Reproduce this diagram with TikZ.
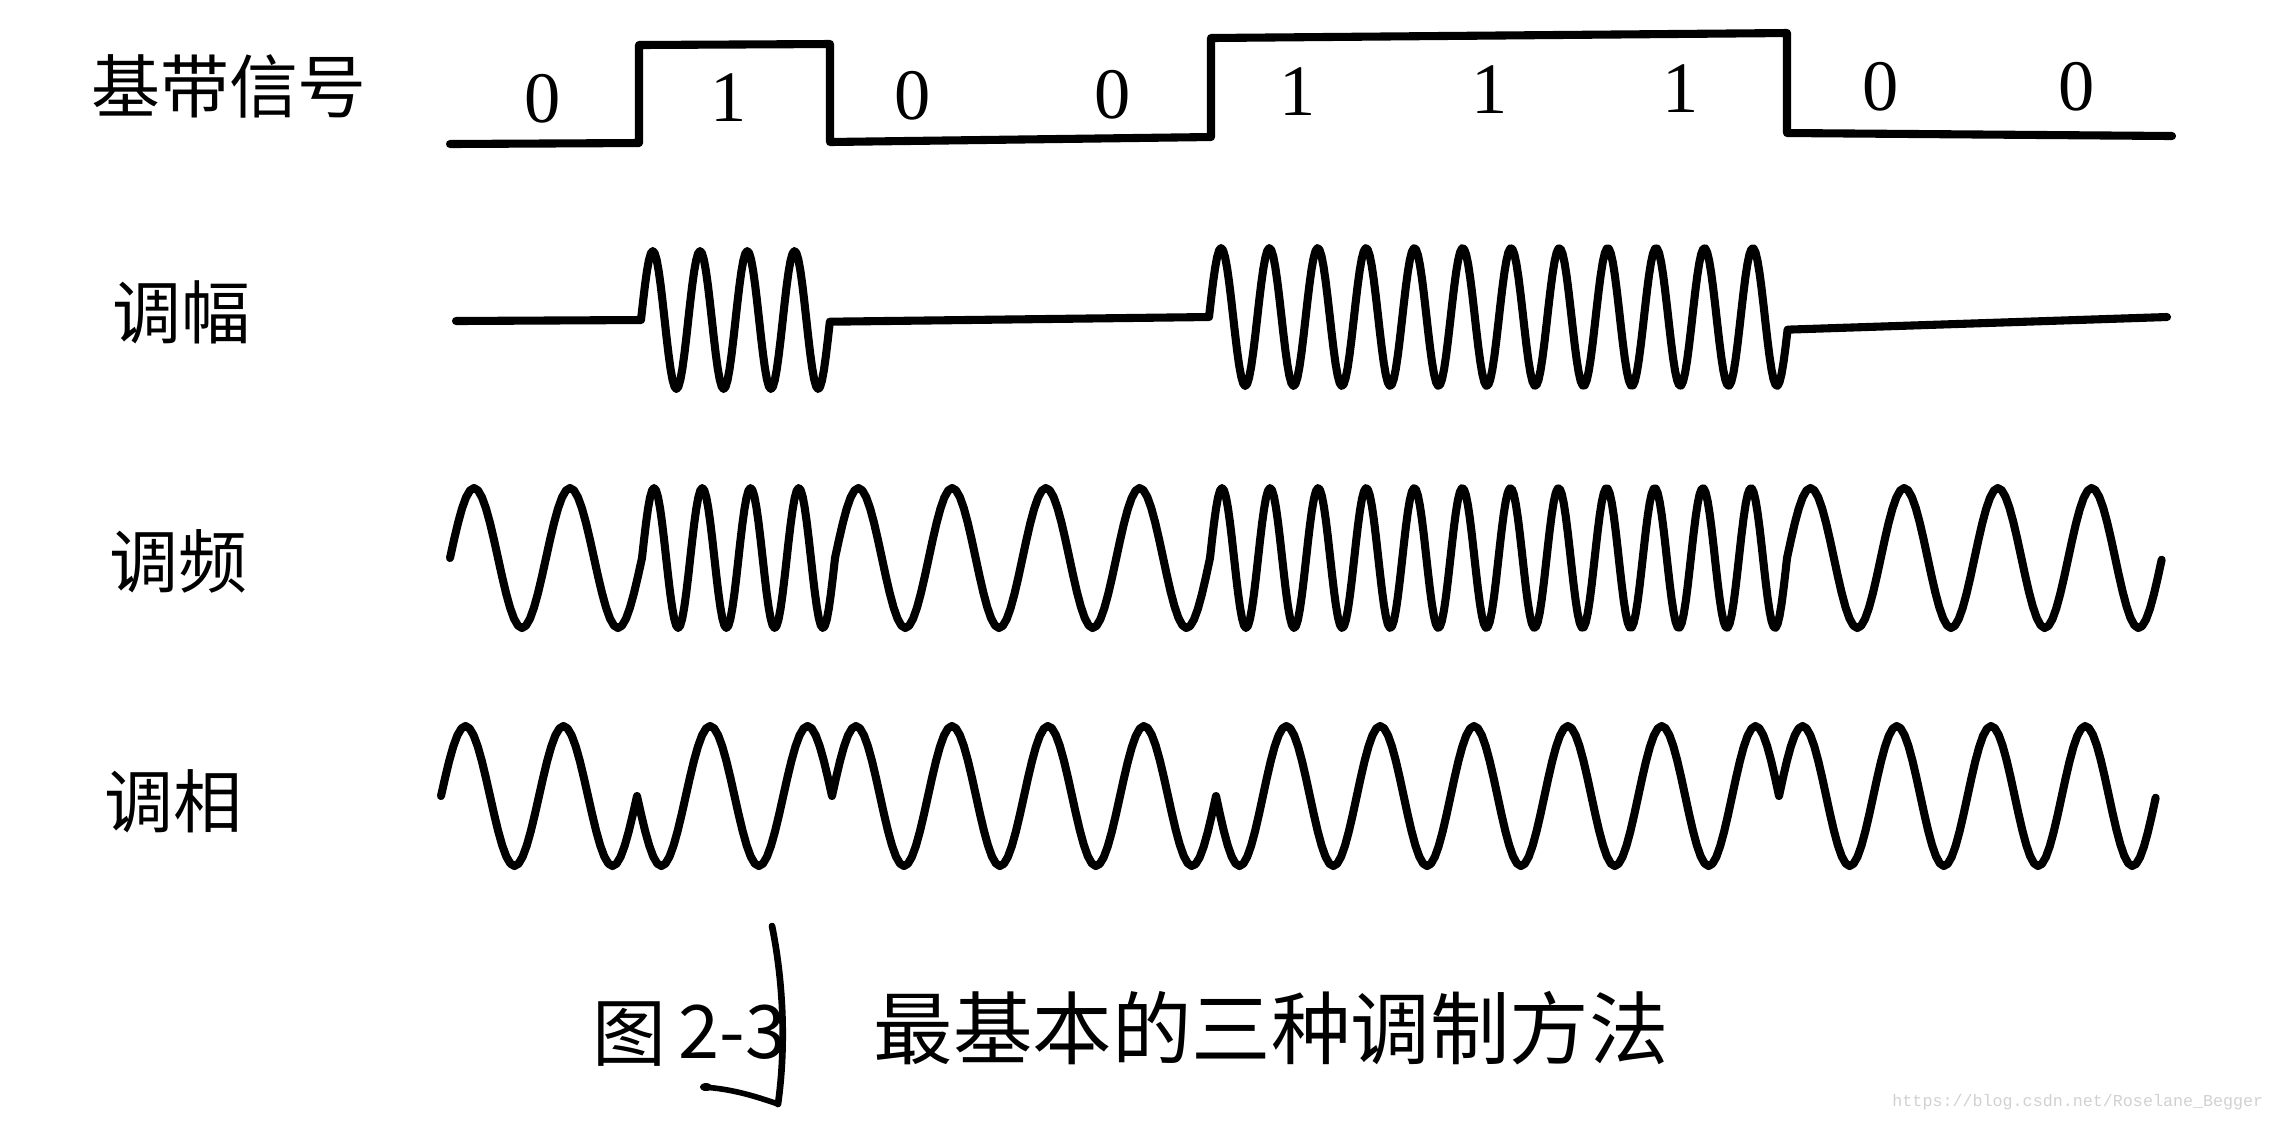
\documentclass[tikz,border=0pt]{standalone}
\usepackage{fontspec}
\setmainfont{Liberation Serif}
\newfontfamily\cjk{Noto Sans CJK SC}
\newfontfamily\wmfont{Liberation Mono}
\begin{document}
\begin{tikzpicture}[x=0.01cm,y=-0.01cm,
  sig/.style={line width=2.3pt,line join=round,line cap=round},
  lbl/.style={font=\cjk\fontsize{19.6pt}{22pt}\selectfont,inner sep=0pt},
  bit/.style={font=\fontsize{20.6pt}{24pt}\selectfont,inner sep=0pt},
  captext/.style={font=\cjk\fontsize{22.6pt}{26pt}\selectfont,inner sep=0pt,anchor=base west},
  capfigure/.style={font=\cjk\fontsize{21pt}{24pt}\selectfont,inner sep=0pt,anchor=base west},
  capdigits/.style={font=\cjk\fontsize{21pt}{24pt}\selectfont,inner sep=0pt,anchor=base east},
  wm/.style={font=\wmfont\fontsize{4.75pt}{6pt}\selectfont,text=black!18,inner sep=0pt},
  pen/.style={line cap=round,line join=round}]
\fill[white] (0,0) rectangle (2276,1120);
\useasboundingbox (0,0) rectangle (2276,1120);

% row labels
\node[lbl] (lbase) at (229,86) {基带信号};
\node[lbl] (lam) at (181,312) {调幅};
\node[lbl] (lfm) at (178,561) {调频};
\node[lbl] (lpm) at (173,801) {调相};

% bit values
\foreach \x/\y/\t [count=\i] in {543/99/0,729/98/1,913/96/0,1113/95/0,1298/92/1,1490/90/1,1681/89/1,1881/87/0,2077/87/0}
  \node[bit] (b\i) at (\x,\y) {\t};

% baseband signal
\draw[sig] (450,144) -- (639,143) -- (639,45) -- (830,44) -- (830,142) -- (1211,137)
  -- (1211,38) -- (1787,33) -- (1787,133) -- (2172,136);

% amplitude modulation
\draw[sig] (456,321) -- (641,320)
  -- plot[domain=0:1,samples=97] ({641+189*\x},{320-69*sin(1440*\x)})
  -- (1209,317)
  -- plot[domain=0:1,samples=289] ({1209+580*\x},{317-69*sin(4320*\x)})
  -- (2167,317);

% frequency modulation
\draw[sig] plot[domain=0:1,samples=49] ({450+192*\x},{558-70*sin(720*\x)})
  -- plot[domain=0:1,samples=97] ({642+193*\x},{558-70*sin(1440*\x)})
  -- plot[domain=0:1,samples=97] ({835+375*\x},{558-70*sin(1440*\x)})
  -- plot[domain=0:1,samples=289] ({1210+577*\x},{558-70*sin(4320*\x)})
  -- plot[domain=0:1,samples=97] ({1787+375*\x},{558-70*sin(1440*\x)});

% phase modulation
\draw[sig] plot[domain=0:1,samples=49] ({441+196*\x},{796-70*sin(720*\x)})
  -- plot[domain=0:1,samples=49] ({637+195*\x},{796+70*sin(720*\x)})
  -- plot[domain=0:1,samples=97] ({832+384*\x},{796-70*sin(1440*\x)})
  -- plot[domain=0:1,samples=145] ({1216+563*\x},{796+70*sin(2160*\x)})
  -- plot[domain=0:1,samples=97] ({1779+377*\x},{796-70*sin(1440*\x)});

% caption
\node[capfigure] (capfig) at (592,1060) {图};
\node[capdigits] (capnum) at (787,1058) {2-3};
\node[captext] (captitle) at (873,1058) {最基本的三种调制方法};

% pen mark over the caption
\coordinate (pentop) at (772,926);
\coordinate (penbot) at (778,1104);
\coordinate (hookend) at (703,1087);
\draw[pen,line width=1.9pt] (pentop) .. controls (782,975) and (787,1040) .. (penbot);
\draw[pen,line width=1.6pt] (hookend) .. controls (735,1089) and (760,1098) .. (penbot);
\fill (706,1087) ellipse (6 and 4);

% watermark
\node[wm,anchor=base east] (wmark) at (2264,1106) {https://blog.csdn.net/Roselane\_Begger};
\end{tikzpicture}
\end{document}
